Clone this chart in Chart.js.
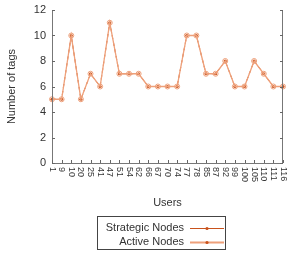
<!DOCTYPE html>
<html>
<head>
<meta charset="utf-8">
<script src="https://cdn.jsdelivr.net/npm/chart.js@4"></script>
<style>
  html, body { margin: 0; padding: 0; background: #fff; }
  #c { display: block; }
</style>
</head>
<body>
<canvas id="c" width="294" height="256"></canvas>
<script>
const users = ['1', '9', '10', '20', '25', '41', '47', '51', '54', '62', '66', '67', '70',
               '74', '77', '78', '85', '87', '92', '99', '100', '105', '110', '111', '116'];
const strategicNodes = [5, 5, 10, 5, 7, 6, 11, 7, 7, 7, 6, 6, 6, 6, 10, 10, 7, 7, 8, 6, 6, 8, 7, 6, 6];
const activeNodes = [5, 5, 10, 5, 7, 6, 11, 7, 7, 7, 6, 6, 6, 6, 10, 10, 7, 7, 8, 6, 6, 8, 7, 6, 6];
const yTicks = [0, 2, 4, 6, 8, 10, 12];

const darkColor = '#c9521c';
const lightColor = '#eea07a';
const FONT = '"Liberation Sans", Arial, sans-serif';

// ticks pointing inward, rotated x labels, axis titles and the boxed legend
const extras = {
    id: 'extras',
    afterDraw(chart) {
        const ctx = chart.ctx;
        const a = chart.chartArea;
        const xs = chart.scales.x;
        const ys = chart.scales.y;
        ctx.save();

        // frame: left, bottom, right
        ctx.strokeStyle = '#777';
        ctx.lineWidth = 1;
        ctx.beginPath();
        ctx.moveTo(a.left + 0.5, a.top);
        ctx.lineTo(a.left + 0.5, a.bottom + 0.5);
        ctx.lineTo(a.right - 0.5, a.bottom + 0.5);
        ctx.lineTo(a.right - 0.5, a.top);
        ctx.stroke();

        // y ticks inward on both sides
        ctx.strokeStyle = '#666';
        ctx.beginPath();
        yTicks.forEach(v => {
            const y = Math.round(ys.getPixelForValue(v)) + 0.5;
            ctx.moveTo(a.left, y); ctx.lineTo(a.left + 3, y);
            ctx.moveTo(a.right, y); ctx.lineTo(a.right - 3, y);
        });
        // x ticks inward
        users.forEach((u, i) => {
            const x = Math.round(xs.getPixelForTick(i)) + 0.5;
            ctx.moveTo(x, a.bottom); ctx.lineTo(x, a.bottom - 3);
        });
        ctx.stroke();

        // y tick labels
        ctx.fillStyle = '#333';
        ctx.font = '11px ' + FONT;
        ctx.textAlign = 'right';
        ctx.textBaseline = 'middle';
        yTicks.forEach(v => ctx.fillText(String(v), a.left - 6, ys.getPixelForValue(v)));

        // x tick labels rotated, reading top to bottom
        ctx.font = '9px ' + FONT;
        ctx.textAlign = 'left';
        users.forEach((u, i) => {
            ctx.save();
            ctx.translate(xs.getPixelForTick(i), a.bottom + 4);
            ctx.rotate(Math.PI / 2);
            ctx.fillText(u, 0, 0);
            ctx.restore();
        });

        // axis titles
        ctx.font = '11px ' + FONT;
        ctx.textAlign = 'center';
        ctx.fillText('Users', (a.left + a.right) / 2, 203);
        ctx.save();
        ctx.translate(12, (a.top + a.bottom) / 2);
        ctx.rotate(-Math.PI / 2);
        ctx.fillText('Number of tags', 0, 0);
        ctx.restore();

        // legend
        ctx.strokeStyle = '#444';
        ctx.strokeRect(97.5, 216.5, 128, 33);
        const items = [
            { label: 'Strategic Nodes', color: darkColor, width: 1.2, y: 228 },
            { label: 'Active Nodes', color: lightColor, width: 2, y: 242 }
        ];
        items.forEach(it => {
            ctx.fillStyle = '#333';
            ctx.textAlign = 'right';
            ctx.fillText(it.label, 184, it.y);
            ctx.strokeStyle = it.color;
            ctx.lineWidth = it.width;
            ctx.beginPath();
            ctx.moveTo(190, it.y + 0.5); ctx.lineTo(224, it.y + 0.5);
            ctx.stroke();
            ctx.fillStyle = darkColor;
            ctx.beginPath();
            ctx.arc(207, it.y + 0.5, 1.6, 0, Math.PI * 2);
            ctx.fill();
        });

        ctx.restore();
    }
};

new Chart(document.getElementById('c'), {
    type: 'line',
    data: {
        labels: users,
        datasets: [{
            label: 'Active Nodes',
            data: activeNodes,
            borderColor: lightColor,
            borderWidth: 1.3,
            pointRadius: 2.5,
            pointBorderWidth: 1,
            pointBorderColor: lightColor,
            pointBackgroundColor: 'rgba(255,255,255,0)',
            tension: 0
        }, {
            label: 'Strategic Nodes',
            data: strategicNodes,
            borderColor: darkColor,
            borderWidth: 1,
            borderDash: [4, 3],
            pointRadius: 1.6,
            pointBorderWidth: 0,
            pointBackgroundColor: darkColor,
            tension: 0
        }]
    },
    options: {
        responsive: false,
        animation: false,
        layout: { padding: { top: 10, right: 11, left: 0, bottom: 0 } },
        plugins: {
            legend: { display: false },
            tooltip: { enabled: false }
        },
        scales: {
            x: {
                type: 'category',
                offset: false,
                grid: { display: false, drawTicks: false },
                border: { display: false },
                ticks: { display: false },
                afterFit(scale) { scale.height = 93; }
            },
            y: {
                min: 0,
                max: 12,
                grid: { display: false, drawTicks: false },
                border: { display: false },
                ticks: { display: false, stepSize: 2 },
                afterFit(scale) { scale.width = 52; }
            }
        }
    },
    plugins: [extras]
});
</script>
</body>
</html>
